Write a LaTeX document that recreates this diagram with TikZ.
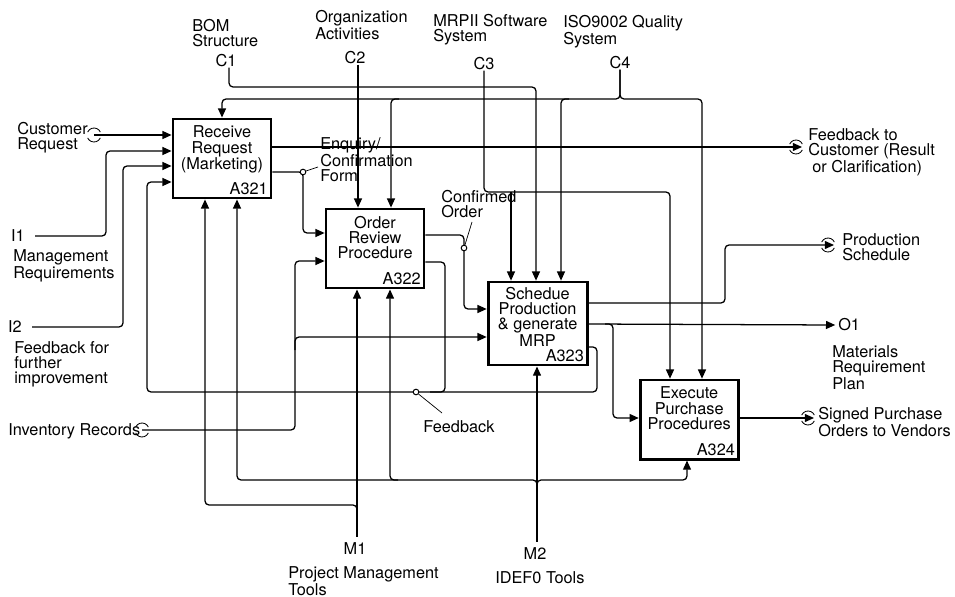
\documentclass[tikz,border=0pt]{standalone}
\usepackage{fontspec}
\setmainfont{TeX Gyre Heros}
\usetikzlibrary{positioning, arrows.meta}

\begin{document}
\begin{tikzpicture}[
  x=0.025cm, y=-0.025cm,
  every node/.style={font=\fontsize{11.6}{10.9}\selectfont},
  act/.style={rectangle, draw, line width=2pt,
              minimum width=24.5mm, minimum height=19.75mm,
              inner sep=0pt},
  ttl/.style={label={[anchor=north, align=center, inner sep=0pt,
              yshift=-2mm]north:{#1}}},
  num/.style={label={[anchor=south east, inner sep=0pt,
              xshift=-1.1mm, yshift=1mm]south east:#1}},
  txt/.style={align=left, inner sep=0pt},
  icom/.style={inner sep=0pt},
  arr/.style={-{Triangle[length=2.3mm, width=2mm]}, line width=0.9pt,
              rounded corners=1mm},
  ln/.style={line width=0.9pt, rounded corners=1mm},
  tun/.style={line width=0.6pt},
  dot/.style={circle, draw, fill=white, line width=0.7pt,
              inner sep=0pt, minimum size=1.4mm},
  lead/.style={line width=0.5pt}
]
\useasboundingbox (0,0) rectangle (955,597);

\node[act, ttl={Receive\\Request\\(Marketing)}, num=A321] (a321) at (222,158.5) {};
\node[act, ttl={Order\\Review\\Procedure}, num=A322,
      below right=2.05mm and 13.05mm of a321] (a322) {};
\node[act, minimum width=24.75mm, minimum height=20.75mm,
      label={[anchor=north, align=center, inner sep=0pt, yshift=-1.5mm]north:{Schedue\\Production\\\& generate\\MRP}},
      num=A323, below right=-2.2mm and 15.3mm of a322] (a323) {};
\node[act, ttl={Execute\\Purchase\\Procedures}, num=A324,
      below right=3.05mm and 12.55mm of a323] (a324) {};

\node[txt, anchor=north west] (bom) at (192,19) {BOM\\Structure};
\node[icom] (c1) at (226,61) {C1};
\node[txt, anchor=north west] (org) at (315,10) {Organization\\Activities};
\node[icom] (c2) at (355,58) {C2};
\node[txt, anchor=north west] (mrp) at (433,14) {MRPII Software\\System};
\node[icom] (c3) at (484,64) {C3};
\node[txt, anchor=north west] (iso) at (563,15) {ISO9002 Quality\\System};
\node[icom] (c4) at (620,63) {C4};

\node[txt, anchor=north west] (cust) at (17,122) {Customer\\Request};
\node[icom] (i1) at (18,236) {I1};
\node[txt, anchor=north west] (mreq) at (13,249) {Management\\Requirements};
\node[icom] (i2) at (15,327) {I2};
\node[txt, anchor=north west] (fbfi) at (14,341) {Feedback for\\further\\improvement};
\node[txt, anchor=west] (inv) at (8,431) {Inventory Records};

\node[txt, anchor=north west] (fbc) at (808,128) {Feedback to\\Customer (Result\\\hspace{0.25em}or Clarification)};
\node[txt, anchor=north west] (psch) at (842,233) {Production\\Schedule};
\node[icom, anchor=west] (o1) at (838,325) {O1};
\node[txt, anchor=north west] (mrpl) at (832,345) {Materials\\Requirement\\Plan};
\node[txt, anchor=north west] (spo) at (818,407) {Signed Purchase\\Orders to Vendors};

\node[icom] (m1) at (355,549) {M1};
\node[txt, anchor=north west] (pmt) at (288,566) {Project Management\\Tools};
\node[icom] (m2) at (535,554) {M2};
\node[txt, anchor=north west] (idef) at (495,571) {IDEF0 Tools};

\node[txt, anchor=north west] (enq) at (320,137) {Enquiry/\\Confirmation\\Form};
\node[txt, anchor=north west] (conf) at (441,190) {Confirmed\\Order};
\node[txt, anchor=north west] (fbk) at (423,420) {Feedback};

\coordinate (custin) at (94,135);
\coordinate (invin) at (142,430);
\coordinate (fbcout) at (796,147);
\coordinate (psout) at (828,245);
\coordinate (spoout) at (808,418);

\draw[arr] (c1.south -| 229,0) |- (536,87) -- (a323.north -| 536,0);
\draw[arr] (c2.south -| 358,0) -- (a322.north -| 358,0);
\draw[arr] (c3.south) |- (670,192) -- (a324.north -| 670,0);
\draw[arr] (511,192) -- (a323.north -| 511,0);
\draw[arr] (c4.south) |- (222,99) -- (a321.north -| 222,0);
\draw[arr] (c4.south) |- (702,99) -- (a324.north -| 702,0);
\draw[arr] (399,99) -| (391,99 |- a322.north);
\draw[arr] (569,99) -| (561,99 |- a323.north);

\draw[arr] (custin) -- (a321.west |- 0,135);
\draw[arr] ([xshift=2.5mm]i1.east) -| (106,151) -- (a321.west |- 0,151);
\draw[arr] ([xshift=2.5mm]i2.east) -| (123,166) -- (a321.west |- 0,166);
\draw[arr] (a323.east |- 0,347) -| (597,392) -| (147,182) -- (a321.west |- 0,182);
\draw[ln] (a322.east |- 0,262) -| (445,392) -- (430,392);
\draw[arr] (invin) -| (295,261) -- (a322.west |- 0,261);
\draw[arr] (295,350) |- (a323.west |- 0,337);

\draw[arr] (a321.east |- 0,172) -| (303,233) -- (a322.west |- 0,233);
\draw[arr] (a321.east |- 0,147) -- ([xshift=1.5mm]fbcout);
\draw[arr] (a322.east |- 0,235) -| (464,309) -- (a323.west |- 0,309);
\draw[arr] (a323.east |- 0,303) -| (725,245) -- ([xshift=1.5mm]psout);
\draw[arr] (a323.east |- 0,324) -- ([xshift=-0.7mm]o1.west);
\draw[arr] (605,324) -| (613,418) -- (a324.west |- 0,418);
\draw[arr] (a324.east |- 0,418) -- ([xshift=1.5mm]spoout);

\draw[arr] ([yshift=1.5mm]m1.north -| 357,0) -- (357,0 |- a322.south);
\draw[arr] (357,512) |- (205,505) -- (205,505 |- a321.south);
\draw[arr] ([yshift=1.5mm]m2.north -| 537,0) -- (537,0 |- a323.south);
\draw[arr] (537,488) |- (237,480) -- (237,480 |- a321.south);
\draw[arr] (537,488) |- (687,480) -- (687,480 |- a324.south);
\draw[arr] (398,480) -| (390,480 |- a322.south);

\foreach \t in {custin, invin, fbcout, psout, spoout} {
  \draw[tun] (\t) ++(25:7) arc (25:155:7);
  \draw[tun] (\t) ++(205:7) arc (205:335:7);
}

\node[dot] (enqdot) at (303,172) {};
\node[dot] (cfdot) at (464,248) {};
\node[dot] (fbdot) at (416,392) {};
\draw[lead] (enqdot) -- (318,167);
\draw[lead] (cfdot) -- (472,222);
\draw[lead] (fbdot) -- (442,413);
\end{tikzpicture}
\end{document}
